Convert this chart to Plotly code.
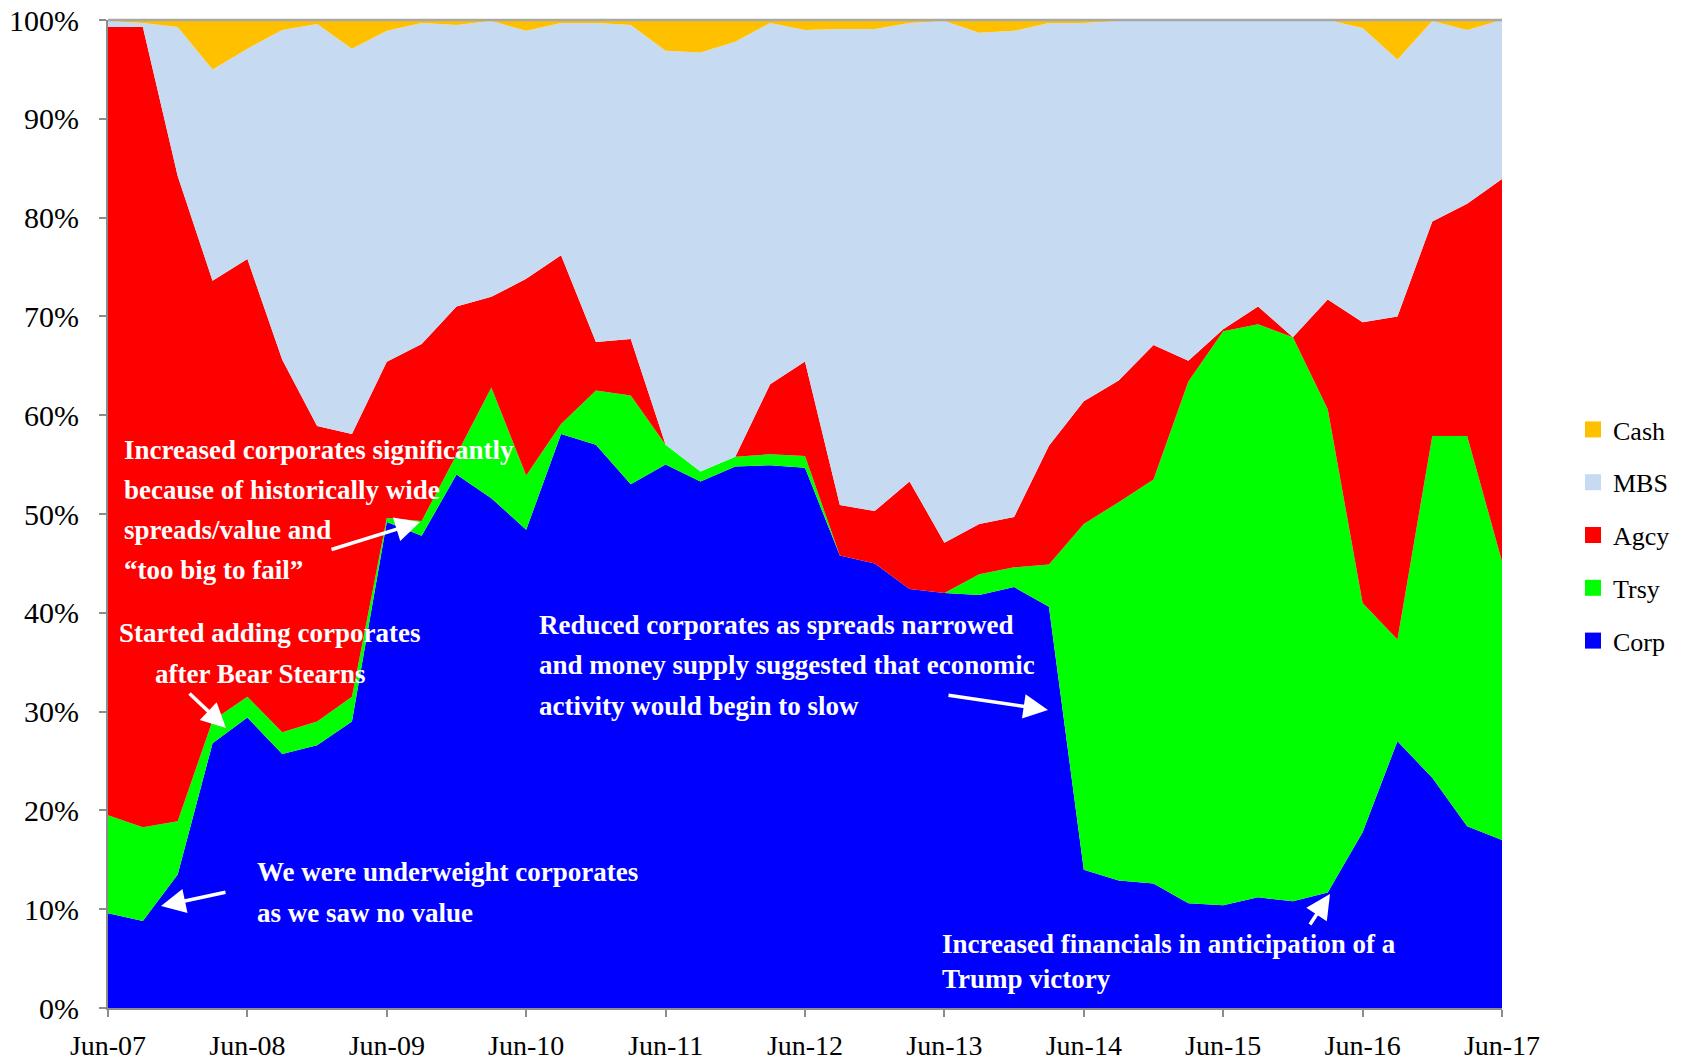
import plotly.graph_objects as go

# ---------------- data ----------------
quarters = ["Jun", "Sep", "Dec", "Mar"]
categories = []
for i in range(41):
    q = quarters[i % 4]
    y = 7 + (i + 2) // 4
    categories.append(f"{q}-{y:02d}")

corp = [9.6, 8.8, 13.5, 26.8, 29.4, 25.7, 26.6, 29.0, 49.2, 47.8,
        54.0, 51.6, 48.4, 58.1, 57.0, 53.0, 55.0, 53.3, 54.8, 55.0,
        54.4, 45.8, 45.0, 42.4, 42.0, 41.8, 42.6, 40.6, 14.0, 12.9,
        12.6, 10.6, 10.4, 11.2, 10.8, 11.7, 17.8, 27.0, 23.3, 18.4, 17.0]
trsy = [9.9, 9.5, 5.4, 2.3, 2.1, 2.2, 2.4, 2.5, 0.4, 1.5,
        2.0, 11.2, 5.5, 1.0, 5.5, 9.0, 2.0, 1.0, 1.0, 1.1,
        1.2, 0.0, 0.0, 0.0, 0.0, 2.1, 2.0, 4.3, 35.0, 38.3,
        40.9, 52.8, 58.1, 58.0, 57.1, 48.9, 23.2, 10.3, 34.6, 39.5, 28.2]
agcy = [79.8, 81.0, 65.3, 44.5, 44.3, 37.7, 29.9, 26.6, 15.8, 17.9,
        15.0, 9.2, 19.9, 17.1, 4.9, 5.7, 0.0, 0.0, 0.0, 7.1,
        9.5, 5.1, 5.3, 10.9, 5.1, 5.1, 5.1, 12.0, 12.4, 12.3,
        13.6, 2.1, 0.2, 1.8, 0.0, 11.1, 28.4, 32.7, 21.7, 23.5, 38.7]
mbs = [0.6, 0.4, 15.1, 21.4, 21.3, 33.4, 40.7, 39.0, 33.5, 32.5,
       28.5, 27.9, 25.1, 23.5, 32.3, 31.8, 39.9, 42.4, 42.0, 36.6,
       33.4, 48.2, 48.8, 46.4, 52.8, 49.7, 49.2, 42.8, 38.3, 36.4,
       32.8, 34.4, 31.2, 29.0, 32.1, 28.3, 29.8, 26.0, 20.3, 17.6, 16.1]
cash = [0.1, 0.3, 0.7, 5.0, 2.9, 1.0, 0.4, 2.9, 1.1, 0.3,
        0.5, 0.1, 1.1, 0.3, 0.3, 0.5, 3.1, 3.3, 2.2, 0.3,
        1.0, 0.9, 0.9, 0.3, 0.1, 1.3, 1.1, 0.3, 0.3, 0.1,
        0.1, 0.1, 0.1, 0.0, 0.0, 0.0, 0.8, 4.0, 0.1, 1.0, 0.0]

series_names = ["Corp", "Trsy", "Agcy", "MBS", "Cash"]
series_values = [corp, trsy, agcy, mbs, cash]
series_colors = ["#0000FF", "#00FF00", "#FF0000", "#C6DBF1", "#FFC000"]

tick_labels = ["Jun-07", "Jun-08", "Jun-09", "Jun-10", "Jun-11", "Jun-12",
               "Jun-13", "Jun-14", "Jun-15", "Jun-16", "Jun-17"]
y_ticks = [0, 10, 20, 30, 40, 50, 60, 70, 80, 90, 100]
y_tick_text = [f"{v}%" for v in y_ticks]

# ---------------- layout geometry (page pixel coords) ----------------
W, H = 1682, 1063
PL, PR, PT, PB = 108, 1502, 20, 1008
SERIF = "Liberation Serif, Times New Roman, serif"


def px(X):
    return (X - PL) / (PR - PL)


def py(Y):
    return (PB - Y) / (PB - PT)


fig = go.Figure()

for name, vals, col in zip(series_names, series_values, series_colors):
    fig.add_trace(go.Scatter(
        x=categories, y=vals, name=name, mode="none",
        stackgroup="one", groupnorm="percent" if name == "Corp" else None,
        fillcolor=col, showlegend=False, hoverinfo="x+y+name",
    ))

# legend proxies (square swatches), top-to-bottom: Cash, MBS, Agcy, Trsy, Corp
for name, col in zip(series_names[::-1], series_colors[::-1]):
    fig.add_trace(go.Scatter(
        x=[None], y=[None], mode="markers", name=name, legendgroup=name,
        marker=dict(symbol="square", size=17, color=col),
        showlegend=True,
    ))

annotations = []

# text lines: (text, X, Y)
text_lines = [
    ("Increased corporates significantly", 122, 450),
    ("because of historically wide", 122, 490),
    ("spreads/value and", 122, 530),
    ("\u201ctoo big to fail\u201d", 122, 570),
    ("Started adding corporates", 117, 633),
    ("after Bear Stearns", 153, 674),
    ("We were underweight corporates", 255, 872),
    ("as we saw no value", 255, 913),
    ("Reduced corporates as spreads narrowed", 537, 625),
    ("and money supply suggested that economic", 537, 665),
    ("activity would begin to slow", 537, 706),
    ("Increased financials in anticipation of a", 940, 944),
    ("Trump victory", 940, 979),
]
for t, X, Y in text_lines:
    annotations.append(dict(
        text=f"<b>{t}</b>", x=px(X), y=py(Y), xref="paper", yref="paper",
        xanchor="left", yanchor="middle", showarrow=False,
        font=dict(family=SERIF, size=27, color="white"),
    ))

# arrows: (tailX, tailY, headX, headY)
arrows = [
    (330, 550, 420, 522),
    (188, 692, 226, 728),
    (227, 892, 161, 906),
    (947, 695, 1048, 710),
    (1309, 926, 1330, 894),
]
for tx, ty, hx, hy in arrows:
    annotations.append(dict(
        text="", x=px(hx), y=py(hy), xref="paper", yref="paper",
        ax=tx - hx, ay=ty - hy, axref="pixel", ayref="pixel",
        showarrow=True, arrowhead=2, arrowsize=1.4, arrowwidth=3.5,
        arrowcolor="white", standoff=0, startstandoff=0,
    ))

fig.update_layout(
    width=W, height=H,
    margin=dict(l=PL, r=W - PR, t=PT, b=H - PB, pad=0, autoexpand=False),
    paper_bgcolor="white", plot_bgcolor="white",
    font=dict(family=SERIF, size=26, color="black"),
    showlegend=True,
    legend=dict(
        x=px(1573), y=py(535), xanchor="left", yanchor="middle",
        xref="paper", yref="paper",
        font=dict(family=SERIF, size=26, color="black"),
        traceorder="grouped", tracegroupgap=16,
        itemwidth=30, bgcolor="rgba(0,0,0,0)",
    ),
    annotations=annotations,
    shapes=[dict(type="line", xref="paper", yref="paper", x0=0, x1=1,
                 y0=1, y1=1, line=dict(color="#a8a8a8", width=2.5))],
    xaxis=dict(
        type="category", range=[0, 40], automargin=False,
        tickmode="array", tickvals=tick_labels, ticktext=tick_labels,
        showgrid=False, zeroline=False,
        showline=True, linecolor="#8c8c8c", linewidth=2,
        ticks="outside", ticklen=7, tickwidth=2, tickcolor="#8c8c8c",
        ticklabelstandoff=4, ticklabeloverflow="allow",
        tickfont=dict(family=SERIF, size=28, color="black"),
    ),
    yaxis=dict(
        range=[0, 100], automargin=False,
        tickmode="array", tickvals=y_ticks, ticktext=y_tick_text,
        showgrid=False, zeroline=False,
        showline=True, linecolor="#8c8c8c", linewidth=2,
        ticks="outside", ticklen=7, tickwidth=2, tickcolor="#8c8c8c",
        ticklabelstandoff=14, ticklabeloverflow="allow",
        tickfont=dict(family=SERIF, size=30, color="black"),
    ),
)

fig.write_html(
    "out.html",
    config={"displayModeBar": False},
    post_script="document.body.style.margin='0';document.body.style.overflow='hidden';",
)
